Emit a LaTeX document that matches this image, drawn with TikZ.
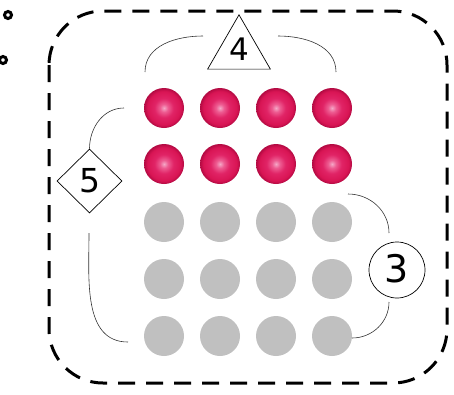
\documentclass[tikz,border=0pt]{standalone}
\usepackage{fontspec}
\setmainfont{DejaVu Sans}
\usetikzlibrary{shapes.geometric}
\definecolor{dotgray}{RGB}{192,192,192}
\pgfdeclareradialshading{pinkball}{\pgfpoint{0pt}{0pt}}{%
  rgb(0pt)=(0.96,0.66,0.78);
  rgb(5pt)=(0.93,0.36,0.57);
  rgb(12pt)=(0.88,0.14,0.40);
  rgb(21pt)=(0.85,0.08,0.33);
  rgb(25pt)=(0.70,0.04,0.26);
  rgb(50pt)=(0.70,0.04,0.26)}
\tikzset{
  redball/.style={circle, minimum size=40pt, inner sep=0pt, shading=pinkball},
  grayball/.style={circle, minimum size=40pt, inner sep=0pt, fill=dotgray},
  brace/.style={draw=black!80, line width=0.6pt},
  frame/.style={draw=black, line width=3pt, dash pattern=on 17pt off 11pt, rounded corners=54pt},
  marker/.style={circle, draw=black, line width=3pt, minimum size=7pt, inner sep=0pt},
  tri/.style={regular polygon, regular polygon sides=3, draw=black, line width=0.7pt, minimum size=64.7pt, inner sep=0pt, font=\fontsize{31}{31}\selectfont},
  dia/.style={diamond, draw=black, line width=0.7pt, minimum width=65pt, minimum height=64pt, inner sep=0pt, font=\fontsize{33}{33}\selectfont},
  circ/.style={circle, draw=black, line width=0.7pt, minimum size=56pt, inner sep=0pt, font=\fontsize{38}{38}\selectfont}
}
\begin{document}
\begin{tikzpicture}[x=1pt,y=1pt]
\useasboundingbox (0,0) rectangle (454,-394);
% frame
\draw[frame] (49,-11) rectangle (447,-383);
% markers
\node[marker] (m1) at (8,-15) {};
\node[marker] (m2) at (3,-60) {};
% balls
\foreach \c/\x in {1/164,2/220,3/276,4/332}{
  \node[redball] (r1\c) at (\x,-108) {};
  \node[redball] (r2\c) at (\x,-164) {};
  \node[grayball] (g3\c) at (\x,-222) {};
  \node[grayball] (g4\c) at (\x,-279) {};
  \node[grayball] (g5\c) at (\x,-336) {};
}
% labels
\node[tri] (four) at (239,-51) {\raisebox{3pt}{4}};
\node[dia] (five) at (89.5,-181) {5};
\node[circ] (three) at (397,-270) {\raisebox{3pt}{3}};
% brace end points
\coordinate (a1) at (145,-72);
\coordinate (a2) at (203,-36);
\coordinate (b1) at (278,-36);
\coordinate (b2) at (336,-72);
\coordinate (c1) at (124,-108);
\coordinate (d1) at (89,-233);
\coordinate (d2) at (128,-342);
\coordinate (e1) at (348,-194);
\coordinate (e2) at (389,-233);
\coordinate (f1) at (389,-302);
\coordinate (f2) at (352,-338);
% braces
\draw[brace] (a1) to[out=90,in=180] (a2);
\draw[brace] (b1) to[out=0,in=90] (b2);
\draw[brace] (five.north) to[out=90,in=180] (c1);
\draw[brace] (d1) to[out=-90,in=180] (d2);
\draw[brace] (e1) to[out=0,in=90] (e2);
\draw[brace] (f1) to[out=-90,in=0] (f2);
\end{tikzpicture}
\end{document}
